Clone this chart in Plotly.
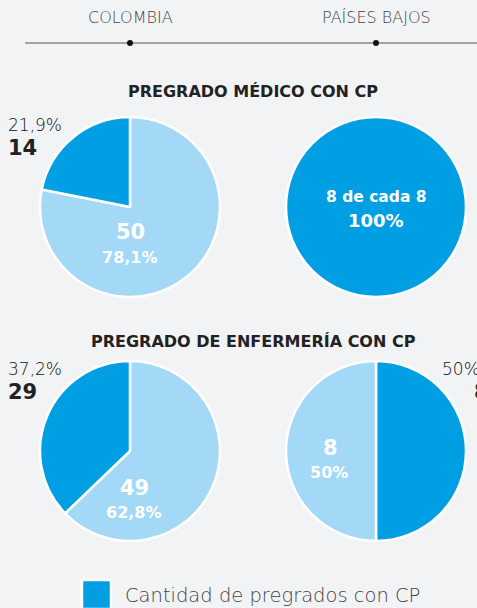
import plotly.graph_objects as go

W, H = 477, 608
countries = ["COLOMBIA", "PAÍSES BAJOS"]
titles = ["PREGRADO MÉDICO CON CP", "PREGRADO DE ENFERMERÍA CON CP"]
# [with CP, without CP]
med_col = [14, 50]
med_col_pct = ["21,9%", "78,1%"]
med_nl = [8]
med_nl_pct = ["100%"]
nur_col = [29, 49]
nur_col_pct = ["37,2%", "62,8%"]
nur_nl = [8, 8]
nur_nl_pct = ["50%", "50%"]
legend_label = "Cantidad de pregrados con CP"

DARK = "#009FE3"
LIGHT = "#A3D9F7"
BG = "#F2F3F5"
FONT = "DejaVu Sans"

def px(x):
    return x / W

def py(y):
    return 1 - y / H

fig = go.Figure()

def add_pie(vals, colors, cx, cy, r):
    fig.add_trace(go.Pie(
        values=vals, sort=False, direction="clockwise", rotation=0,
        marker=dict(colors=colors, line=dict(color="white", width=2.5)),
        textinfo="none", hoverinfo="skip", showlegend=False,
        domain=dict(x=[px(cx - r), px(cx + r)], y=[py(cy + r), py(cy - r)]),
    ))

add_pie([med_col[1], med_col[0]], [LIGHT, DARK], 130, 207, 90)
add_pie(med_nl, [DARK], 376, 207, 90)
add_pie([nur_col[1], nur_col[0]], [LIGHT, DARK], 130, 451, 90)
add_pie(nur_nl, [DARK, LIGHT], 376, 451, 90)

ann = []
def t(text, x, y, size, color="#222", xanchor="center", weight=400):
    ann.append(dict(text=text, x=px(x), y=py(y), xref="paper", yref="paper",
                    showarrow=False, xanchor=xanchor, yanchor="middle",
                    font=dict(family=FONT, size=size, color=color, weight=weight)))

# country headers
t(countries[0], 130, 17, 16, "#444", weight=300)
t(countries[1], 376, 17, 16, "#444", weight=300)
# titles
t(titles[0], 253, 91, 16, "#222", weight=700)
t(titles[1], 253, 341, 16, "#222", weight=700)

# outside labels
t(med_col_pct[0], 6, 125, 17, "#111", xanchor="left", weight=300)
t(str(med_col[0]), 6, 148, 21, "#222", xanchor="left", weight=700)
t(nur_col_pct[0], 6, 369, 17, "#111", xanchor="left", weight=300)
t(str(nur_col[0]), 6, 392, 21, "#222", xanchor="left", weight=700)
t(nur_nl_pct[0], 440, 369, 17, "#111", xanchor="left", weight=300)
t(str(nur_nl[0]), 472, 392, 21, "#222", xanchor="left", weight=700)

# inside labels
t(str(med_col[1]), 130, 232, 21, "white", weight=700)
t(med_col_pct[1], 130, 257, 16, "white", weight=700)
t(f"{med_nl[0]} de cada {med_nl[0]}", 376, 197, 15.5, "white", weight=700)
t(med_nl_pct[0], 376, 220, 18, "white", weight=700)
t(str(nur_col[1]), 134, 488, 21, "white", weight=700)
t(nur_col_pct[1], 134, 512, 16, "white", weight=700)
t(str(nur_nl[1]), 330, 448, 21, "white", weight=700)
t(nur_nl_pct[1], 329, 472, 16, "white", weight=700)

# legend
t(legend_label, 123, 595, 19.5, "#444", xanchor="left", weight=300)

shapes = [
    dict(type="line", xref="paper", yref="paper", x0=px(25), x1=px(477), y0=py(43), y1=py(43),
         line=dict(color="#555", width=1.2)),
    dict(type="circle", xref="paper", yref="paper", x0=px(127), x1=px(133), y0=py(46), y1=py(40),
         fillcolor="#111", line=dict(width=0)),
    dict(type="circle", xref="paper", yref="paper", x0=px(373), x1=px(379), y0=py(46), y1=py(40),
         fillcolor="#111", line=dict(width=0)),
    dict(type="rect", xref="paper", yref="paper", x0=px(82), x1=px(111), y0=py(609), y1=py(580),
         fillcolor=DARK, line=dict(color="white", width=2.5)),
]

fig.update_layout(width=W, height=H, margin=dict(l=0, r=0, t=0, b=0),
                  paper_bgcolor=BG, plot_bgcolor=BG, annotations=ann, shapes=shapes,
                  showlegend=False)
fig.write_html("out.html", config={"displayModeBar": False},
               post_script="document.body.style.margin='0';document.body.style.overflow='hidden';")
